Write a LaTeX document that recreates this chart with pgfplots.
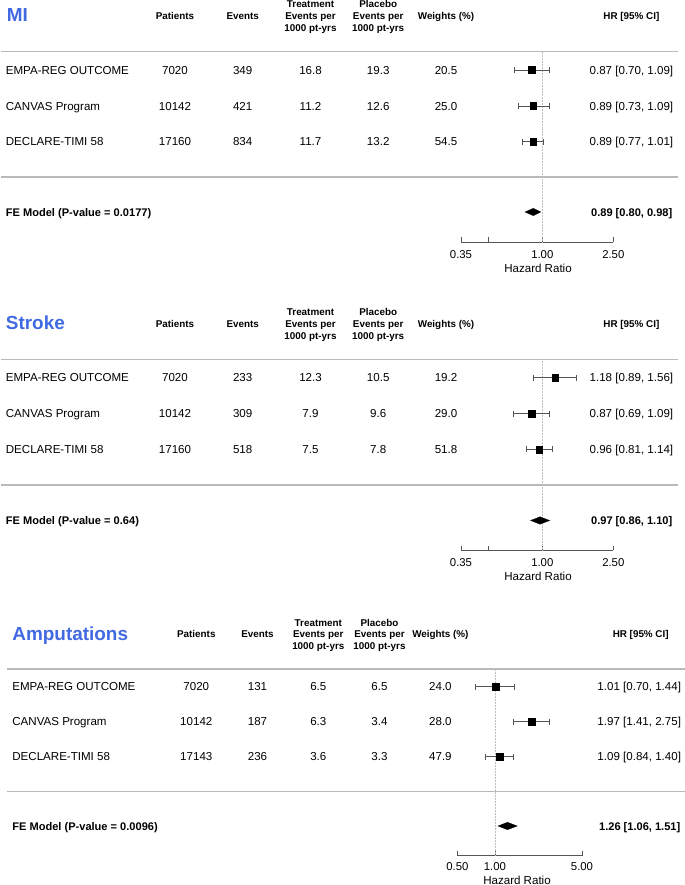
\documentclass[border=0pt]{standalone}
\usepackage{pgfplots}
\pgfplotsset{compat=1.18}
\usepackage{fontspec}
\setmainfont{Liberation Sans}
\definecolor{titleblue}{RGB}{65,105,225}
\definecolor{sepgray}{RGB}{185,185,185}
\definecolor{cigray}{RGB}{85,85,85}
\definecolor{refgray}{RGB}{190,190,190}

\tikzset{
  myseprule/.style={sepgray, line width=1.6bp},
  myrefline/.style={refgray, densely dotted, line width=0.5bp},
  myci/.style={cigray, line width=0.8bp, mark=|, mark size=3bp, mark options={solid, cigray}},
  mysq/.style={only marks, mark=square*, mark size=3.3bp, black},
  mydia/.style={fill=black, draw=black, line width=0.3bp},
}

\begin{document}
\begin{tikzpicture}[
  txt/.style={font=\fontsize{11.6}{13}\selectfont, inner sep=0pt},
  tc/.style={txt, anchor=base, yshift=-4.2bp},
  tl/.style={txt, anchor=base west, yshift=-4.2bp},
  tr/.style={txt, anchor=base east, yshift=-4.2bp},
  bl/.style={tl, font=\fontsize{11.1}{13}\selectfont\bfseries},
  br/.style={tr, font=\fontsize{11.1}{13}\selectfont\bfseries},
  hd/.style={font=\fontsize{9.9}{12}\selectfont\bfseries, inner sep=0pt, anchor=base, yshift=-3.5bp},
  ttl/.style={font=\fontsize{19}{22}\selectfont\bfseries, text=titleblue, inner sep=0pt, anchor=base west, yshift=-6.8bp},
]
\path[use as bounding box] (0,0) rectangle (685bp,885bp);

% ---------------- text and rules ----------------
\begin{axis}[at={(0bp,0bp)}, anchor=south west, scale only axis, width=685bp, height=885bp,
    xmin=0, xmax=685, ymin=-885, ymax=0, hide axis, clip=false]
% ===== Panel 1: MI =====
\addplot[myseprule] coordinates {(1.3,-51.7) (677.7,-51.7)};
\addplot[myseprule] coordinates {(1.3,-177.3) (677.7,-177.3)};
\node[ttl] at (axis cs:6.6,-15) {MI};
\node[hd] at (axis cs:175,-16.3) {Patients};
\node[hd] at (axis cs:242.7,-16.3) {Events};
\node[hd] at (axis cs:310.5,-4.3) {Treatment};
\node[hd] at (axis cs:310.5,-16.3) {Events per};
\node[hd] at (axis cs:310.5,-28.3) {1000 pt-yrs};
\node[hd] at (axis cs:378.2,-4.3) {Placebo};
\node[hd] at (axis cs:378.2,-16.3) {Events per};
\node[hd] at (axis cs:378.2,-28.3) {1000 pt-yrs};
\node[hd] at (axis cs:446,-16.3) {Weights (\%)};
\node[hd] at (axis cs:631.4,-16.3) {HR [95\% CI]};
\node[tl] at (axis cs:5.7,-70) {EMPA-REG OUTCOME};
\node[tc] at (axis cs:175,-70) {7020};
\node[tc] at (axis cs:242.7,-70) {349};
\node[tc] at (axis cs:310.5,-70) {16.8};
\node[tc] at (axis cs:378.2,-70) {19.3};
\node[tc] at (axis cs:446,-70) {20.5};
\node[tr] at (axis cs:673.4,-70) {0.87 [0.70, 1.09]};
\node[tl] at (axis cs:5.7,-106) {CANVAS Program};
\node[tc] at (axis cs:175,-106) {10142};
\node[tc] at (axis cs:242.7,-106) {421};
\node[tc] at (axis cs:310.5,-106) {11.2};
\node[tc] at (axis cs:378.2,-106) {12.6};
\node[tc] at (axis cs:446,-106) {25.0};
\node[tr] at (axis cs:673.4,-106) {0.89 [0.73, 1.09]};
\node[tl] at (axis cs:5.7,-141.7) {DECLARE-TIMI 58};
\node[tc] at (axis cs:175,-141.7) {17160};
\node[tc] at (axis cs:242.7,-141.7) {834};
\node[tc] at (axis cs:310.5,-141.7) {11.7};
\node[tc] at (axis cs:378.2,-141.7) {13.2};
\node[tc] at (axis cs:446,-141.7) {54.5};
\node[tr] at (axis cs:673.4,-141.7) {0.89 [0.77, 1.01]};
\node[bl] at (axis cs:5.7,-212) {FE Model (P-value = 0.0177)};
\node[br] at (axis cs:672.5,-212) {0.89 [0.80, 0.98]};
\node[tc] at (axis cs:538,-268) {Hazard Ratio};
% ===== Panel 2: Stroke =====
\addplot[myseprule] coordinates {(1.3,-359.5) (677.7,-359.5)};
\addplot[myseprule] coordinates {(1.3,-485.2) (677.7,-485.2)};
\node[ttl] at (axis cs:5.7,-323) {Stroke};
\node[hd] at (axis cs:175,-324.3) {Patients};
\node[hd] at (axis cs:242.7,-324.3) {Events};
\node[hd] at (axis cs:310.5,-312.3) {Treatment};
\node[hd] at (axis cs:310.5,-324.3) {Events per};
\node[hd] at (axis cs:310.5,-336.3) {1000 pt-yrs};
\node[hd] at (axis cs:378.2,-312.3) {Placebo};
\node[hd] at (axis cs:378.2,-324.3) {Events per};
\node[hd] at (axis cs:378.2,-336.3) {1000 pt-yrs};
\node[hd] at (axis cs:446,-324.3) {Weights (\%)};
\node[hd] at (axis cs:631.4,-324.3) {HR [95\% CI]};
\node[tl] at (axis cs:5.7,-377.7) {EMPA-REG OUTCOME};
\node[tc] at (axis cs:175,-377.7) {7020};
\node[tc] at (axis cs:242.7,-377.7) {233};
\node[tc] at (axis cs:310.5,-377.7) {12.3};
\node[tc] at (axis cs:378.2,-377.7) {10.5};
\node[tc] at (axis cs:446,-377.7) {19.2};
\node[tr] at (axis cs:673.4,-377.7) {1.18 [0.89, 1.56]};
\node[tl] at (axis cs:5.7,-413.7) {CANVAS Program};
\node[tc] at (axis cs:175,-413.7) {10142};
\node[tc] at (axis cs:242.7,-413.7) {309};
\node[tc] at (axis cs:310.5,-413.7) {7.9};
\node[tc] at (axis cs:378.2,-413.7) {9.6};
\node[tc] at (axis cs:446,-413.7) {29.0};
\node[tr] at (axis cs:673.4,-413.7) {0.87 [0.69, 1.09]};
\node[tl] at (axis cs:5.7,-449.5) {DECLARE-TIMI 58};
\node[tc] at (axis cs:175,-449.5) {17160};
\node[tc] at (axis cs:242.7,-449.5) {518};
\node[tc] at (axis cs:310.5,-449.5) {7.5};
\node[tc] at (axis cs:378.2,-449.5) {7.8};
\node[tc] at (axis cs:446,-449.5) {51.8};
\node[tr] at (axis cs:673.4,-449.5) {0.96 [0.81, 1.14]};
\node[bl] at (axis cs:5.7,-520.5) {FE Model (P-value = 0.64)};
\node[br] at (axis cs:672.5,-520.5) {0.97 [0.86, 1.10]};
\node[tc] at (axis cs:538,-576) {Hazard Ratio};
% ===== Panel 3: Amputations =====
\addplot[myseprule] coordinates {(7.4,-669) (685,-669)};
\addplot[myseprule] coordinates {(7.4,-791.7) (685,-791.7)};
\node[ttl] at (axis cs:12.2,-633.3) {Amputations};
\node[hd] at (axis cs:196.3,-634.3) {Patients};
\node[hd] at (axis cs:257.5,-634.3) {Events};
\node[hd] at (axis cs:318.3,-622.7) {Treatment};
\node[hd] at (axis cs:318.3,-634.3) {Events per};
\node[hd] at (axis cs:318.3,-646) {1000 pt-yrs};
\node[hd] at (axis cs:379.5,-622.7) {Placebo};
\node[hd] at (axis cs:379.5,-634.3) {Events per};
\node[hd] at (axis cs:379.5,-646) {1000 pt-yrs};
\node[hd] at (axis cs:440.4,-634.3) {Weights (\%)};
\node[hd] at (axis cs:640.7,-634.3) {HR [95\% CI]};
\node[tl] at (axis cs:12.2,-686.7) {EMPA-REG OUTCOME};
\node[tc] at (axis cs:196.3,-686.7) {7020};
\node[tc] at (axis cs:257.5,-686.7) {131};
\node[tc] at (axis cs:318.3,-686.7) {6.5};
\node[tc] at (axis cs:379.5,-686.7) {6.5};
\node[tc] at (axis cs:440.4,-686.7) {24.0};
\node[tr] at (axis cs:681.2,-686.7) {1.01 [0.70, 1.44]};
\node[tl] at (axis cs:12.2,-721.7) {CANVAS Program};
\node[tc] at (axis cs:196.3,-721.7) {10142};
\node[tc] at (axis cs:257.5,-721.7) {187};
\node[tc] at (axis cs:318.3,-721.7) {6.3};
\node[tc] at (axis cs:379.5,-721.7) {3.4};
\node[tc] at (axis cs:440.4,-721.7) {28.0};
\node[tr] at (axis cs:681.2,-721.7) {1.97 [1.41, 2.75]};
\node[tl] at (axis cs:12.2,-756.7) {DECLARE-TIMI 58};
\node[tc] at (axis cs:196.3,-756.7) {17143};
\node[tc] at (axis cs:257.5,-756.7) {236};
\node[tc] at (axis cs:318.3,-756.7) {3.6};
\node[tc] at (axis cs:379.5,-756.7) {3.3};
\node[tc] at (axis cs:440.4,-756.7) {47.9};
\node[tr] at (axis cs:681.2,-756.7) {1.09 [0.84, 1.40]};
\node[bl] at (axis cs:12.2,-826) {FE Model (P-value = 0.0096)};
\node[br] at (axis cs:680.5,-826) {1.26 [1.06, 1.51]};
\node[tc] at (axis cs:517,-880) {Hazard Ratio};
\end{axis}

% ---------------- forest 1: MI ----------------
\begin{axis}[at={(461bp,643bp)}, anchor=south west, scale only axis,
  width=152.3bp, height=190.3bp, xmode=log,
  axis x line=bottom, axis y line=none,
  x axis line style={-, draw=cigray, line width=0.8bp}, xtick align=inside, major tick length=4.5bp,
  tick style={draw=cigray, line width=0.8bp}, minor tick num=0, clip=false,
  /pgf/number format/assume math mode=true,
  xticklabel style={font=\fontsize{11.4}{13}\selectfont, inner sep=0pt, anchor=base, text=black, yshift=-16.3bp},
  xmin=0.35, xmax=2.5, ymin=-242, ymax=-51.7,
  xtick={0.35,0.5,1,2.5}, xticklabels={0.35,,1.00,2.50}]
\addplot[myrefline] coordinates {(1,-51.7) (1,-242)};
\addplot[myci] coordinates {(0.70,-70) (1.09,-70)};
\addplot[myci] coordinates {(0.73,-106) (1.09,-106)};
\addplot[myci] coordinates {(0.77,-141.7) (1.01,-141.7)};
\addplot[mysq] coordinates {(0.87,-70) (0.89,-106) (0.89,-141.7)};
\addplot[mydia] coordinates {(0.80,-212) (0.89,-208.3) (0.98,-212) (0.89,-215.7)} --cycle;
\end{axis}

% ---------------- forest 2: Stroke ----------------
\begin{axis}[at={(461bp,334.5bp)}, anchor=south west, scale only axis,
  width=152.3bp, height=191bp, xmode=log,
  axis x line=bottom, axis y line=none,
  x axis line style={-, draw=cigray, line width=0.8bp}, xtick align=inside, major tick length=4.5bp,
  tick style={draw=cigray, line width=0.8bp}, minor tick num=0, clip=false,
  /pgf/number format/assume math mode=true,
  xticklabel style={font=\fontsize{11.4}{13}\selectfont, inner sep=0pt, anchor=base, text=black, yshift=-16.2bp},
  xmin=0.35, xmax=2.5, ymin=-550.5, ymax=-359.5,
  xtick={0.35,0.5,1,2.5}, xticklabels={0.35,,1.00,2.50}]
\addplot[myrefline] coordinates {(1,-359.5) (1,-550.5)};
\addplot[myci] coordinates {(0.89,-377.7) (1.56,-377.7)};
\addplot[myci] coordinates {(0.69,-413.7) (1.09,-413.7)};
\addplot[myci] coordinates {(0.81,-449.5) (1.14,-449.5)};
\addplot[mysq] coordinates {(1.18,-377.7) (0.87,-413.7) (0.96,-449.5)};
\addplot[mydia] coordinates {(0.86,-520.5) (0.97,-516.8) (1.10,-520.5) (0.97,-524.2)} --cycle;
\end{axis}

% ---------------- forest 3: Amputations ----------------
\begin{axis}[at={(457.4bp,29.5bp)}, anchor=south west, scale only axis,
  width=124.6bp, height=186.5bp, xmode=log,
  axis x line=bottom, axis y line=none,
  x axis line style={-, draw=cigray, line width=0.8bp}, xtick align=inside, major tick length=4.5bp,
  tick style={draw=cigray, line width=0.8bp}, minor tick num=0, clip=false,
  /pgf/number format/assume math mode=true,
  xticklabel style={font=\fontsize{11.4}{13}\selectfont, inner sep=0pt, anchor=base, text=black, yshift=-15.2bp},
  xmin=0.5, xmax=5, ymin=-855.5, ymax=-669,
  xtick={0.5,1,5}, xticklabels={0.50,1.00,5.00}]
\addplot[myrefline] coordinates {(1,-669) (1,-855.5)};
\addplot[myci] coordinates {(0.70,-686.7) (1.44,-686.7)};
\addplot[myci] coordinates {(1.41,-721.7) (2.75,-721.7)};
\addplot[myci] coordinates {(0.84,-756.7) (1.40,-756.7)};
\addplot[mysq] coordinates {(1.01,-686.7) (1.97,-721.7) (1.09,-756.7)};
\addplot[mydia] coordinates {(1.06,-826) (1.26,-822.3) (1.51,-826) (1.26,-829.7)} --cycle;
\end{axis}
\end{tikzpicture}
\end{document}
